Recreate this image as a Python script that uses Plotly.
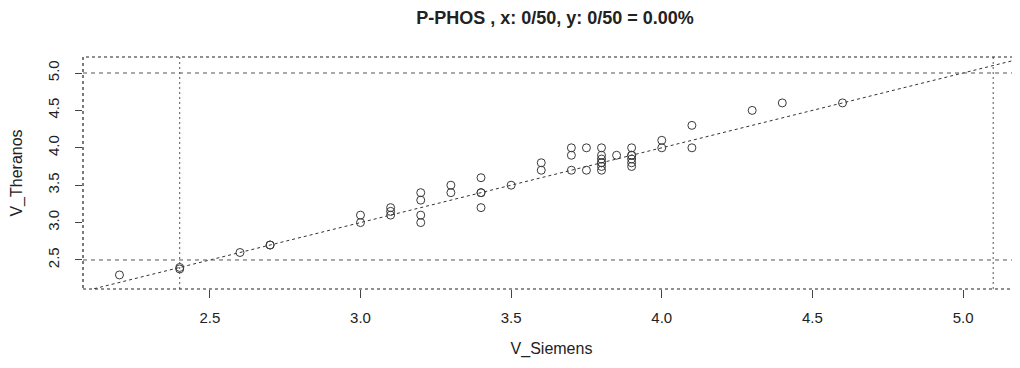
import plotly.graph_objects as go

# Data (V_Siemens vs V_Theranos)
v_siemens = [2.2, 2.4, 2.4, 2.6, 2.7, 2.7,
             3.0, 3.0, 3.1, 3.1, 3.1, 3.2, 3.2, 3.2, 3.2,
             3.3, 3.3, 3.4, 3.4, 3.4, 3.4, 3.5, 3.6, 3.6,
             3.7, 3.7, 3.7, 3.75, 3.75,
             3.8, 3.8, 3.8, 3.8, 3.8, 3.8, 3.8, 3.85,
             3.9, 3.9, 3.9, 3.9, 3.9, 3.9,
             4.0, 4.0, 4.1, 4.1, 4.3, 4.4, 4.6]
v_theranos = [2.3, 2.4, 2.38, 2.6, 2.7, 2.7,
              3.1, 3.0, 3.2, 3.15, 3.1, 3.4, 3.3, 3.1, 3.0,
              3.5, 3.4, 3.6, 3.4, 3.4, 3.2, 3.5, 3.8, 3.7,
              4.0, 3.9, 3.7, 4.0, 3.7,
              4.0, 3.9, 3.85, 3.8, 3.8, 3.75, 3.7, 3.9,
              4.0, 3.9, 3.9, 3.85, 3.8, 3.75,
              4.1, 4.0, 4.3, 4.0, 4.5, 4.6, 4.6]

identity_ends = [2.0, 5.3]          # y = x reference line
x_limits = [2.4, 5.1]               # vertical dashed reference lines
y_limits = [2.5, 5.0]               # horizontal dashed reference lines
tick_vals = [2.5, 3.0, 3.5, 4.0, 4.5, 5.0]
tick_text = ["2.5", "3.0", "3.5", "4.0", "4.5", "5.0"]

title_text = "<b>P-PHOS , x: 0/50, y: 0/50 = 0.00%</b>"

FONT = "Liberation Sans, Arial, sans-serif"
INK = "#222222"

fig = go.Figure()

fig.add_trace(go.Scatter(
    x=identity_ends, y=identity_ends, mode="lines",
    line=dict(color="#333333", width=1, dash="dot"),
    hoverinfo="skip", showlegend=False))

fig.add_trace(go.Scatter(
    x=v_siemens, y=v_theranos, mode="markers",
    marker=dict(symbol="circle-open", size=8, color="#3a3a3a",
                line=dict(width=1, color="#3a3a3a")),
    showlegend=False))

shapes = []
for xv in x_limits:
    shapes.append(dict(type="line", xref="x", yref="paper", x0=xv, x1=xv,
                       y0=0, y1=1, line=dict(color="#555555", width=1, dash="2px,3px")))
for yv in y_limits:
    shapes.append(dict(type="line", xref="paper", yref="y", x0=0, x1=1,
                       y0=yv, y1=yv, line=dict(color="#555555", width=1, dash="4px,4px")))
shapes.append(dict(type="rect", xref="paper", yref="paper", x0=0, x1=1, y0=0, y1=1,
                   line=dict(color=INK, width=1.2, dash="dot")))

# page has an 8px default body margin, so the figure is sized 1012x360
fig.update_layout(
    width=1012, height=360,
    margin=dict(l=75, r=0, t=49, b=79, autoexpand=False),
    paper_bgcolor="white", plot_bgcolor="white",
    font=dict(family=FONT, color=INK, size=15),
    title=dict(text=title_text, x=0.5405, xanchor="center", y=0.972, yanchor="middle",
               font=dict(size=18, family=FONT, color=INK)),
    shapes=shapes,
)

fig.update_xaxes(
    range=[2.079, 5.189], tickvals=tick_vals, ticktext=tick_text,
    showgrid=False, zeroline=False, showline=False, automargin=False,
    ticks="outside", ticklen=8, tickcolor="#444444", tickwidth=1,
    ticklabelstandoff=7,
    tickfont=dict(size=15, family=FONT, color=INK),
    title=dict(text="V_Siemens", font=dict(size=16, family=FONT, color=INK), standoff=17),
)
fig.update_yaxes(
    range=[2.112, 5.214], tickvals=tick_vals, ticktext=tick_text,
    showgrid=False, zeroline=False, showline=False, automargin=False,
    ticks="outside", ticklen=7, tickcolor="#444444", tickwidth=1,
    tickangle=-90, ticklabelstandoff=10,
    tickfont=dict(size=15, family=FONT, color=INK),
    title=dict(text="V_Theranos", font=dict(size=16, family=FONT, color=INK), standoff=19),
)

fig.write_html("out.html")
